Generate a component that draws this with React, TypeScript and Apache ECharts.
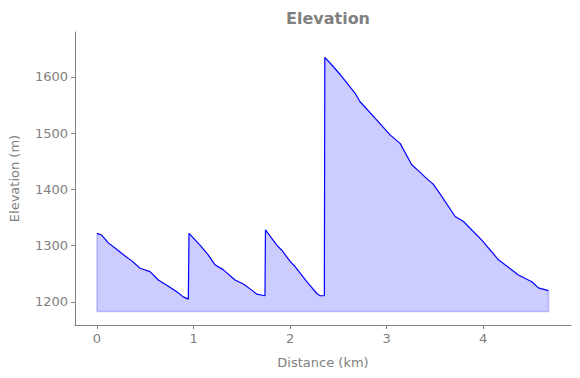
import React, { useEffect, useRef } from "react";
import * as echarts from "echarts";

const distanceKm = [
  0, 0.048, 0.117, 0.2, 0.273, 0.36, 0.446, 0.549, 0.635, 0.739, 0.826, 0.894, 0.946,
  0.953, 1.067, 1.15, 1.223, 1.309, 1.43, 1.516, 1.603, 1.655, 1.74,
  1.745, 1.862, 1.914, 2.0, 2.052, 2.173, 2.277, 2.311, 2.355,
  2.36, 2.44, 2.52, 2.674, 2.725, 2.88, 3.036, 3.14, 3.26, 3.33, 3.43, 3.48, 3.55,
  3.71, 3.796, 3.986, 4.158, 4.365, 4.504, 4.572, 4.677,
];
const elevationM = [
  1322, 1319, 1305, 1294, 1284, 1273, 1260, 1254, 1239, 1228, 1218, 1209, 1205,
  1322, 1301, 1284, 1266, 1257, 1239, 1232, 1221, 1214, 1211,
  1328, 1301, 1292, 1272, 1263, 1236, 1215, 1211, 1211,
  1635, 1620, 1604, 1571, 1556, 1527, 1497, 1482, 1444, 1433, 1417, 1410, 1393,
  1352, 1343, 1310, 1275, 1248, 1236, 1225, 1220,
];
const fillBase = 1183;
const xTicks = [0, 1, 2, 3, 4];
const yTicks = [1200, 1300, 1400, 1500, 1600];

const GRAY = "#808080";
const FONT = "DejaVu Sans";

export default function App() {
  const ref = useRef<HTMLDivElement>(null);
  useEffect(() => {
    if (!ref.current) return;
    const chart = echarts.init(ref.current, undefined, { renderer: "svg" });
    const lineData = distanceKm.map((d, i) => [d, elevationM[i]]);
    const last = distanceKm.length - 1;
    const edgeData = [
      [distanceKm[0], elevationM[0]],
      [distanceKm[0], fillBase],
      [distanceKm[last], fillBase],
      [distanceKm[last], elevationM[last]],
    ];
    const fmt = (v: number) => String(v);
    chart.setOption({
      animation: false,
      textStyle: { fontFamily: FONT },
      title: {
        text: "Elevation",
        left: 323,
        textAlign: "center",
        top: 5,
        textStyle: { fontSize: 16, fontWeight: "bold", color: GRAY, fontFamily: FONT },
      },
      grid: { left: 75, right: 9, top: 32, bottom: 53, containLabel: false },
      xAxis: {
        type: "value",
        min: -0.228,
        max: 4.91,
        name: "Distance (km)",
        nameLocation: "middle",
        nameGap: 31,
        nameTextStyle: { color: GRAY, fontSize: 13, fontFamily: FONT },
        axisLine: { show: true, onZero: false, lineStyle: { color: GRAY, width: 1 } },
        axisTick: { show: true, customValues: xTicks, length: 4, lineStyle: { color: GRAY } },
        axisLabel: { customValues: xTicks, formatter: fmt, color: GRAY, fontSize: 13, margin: 7, fontFamily: FONT },
        splitLine: { show: false },
      },
      yAxis: {
        type: "value",
        min: 1159,
        max: 1680,
        name: "Elevation (m)",
        nameLocation: "middle",
        nameGap: 54,
        nameTextStyle: { color: GRAY, fontSize: 13, fontFamily: FONT },
        axisLine: { show: true, onZero: false, lineStyle: { color: GRAY, width: 1 } },
        axisTick: { show: true, customValues: yTicks, length: 4, lineStyle: { color: GRAY } },
        axisLabel: { customValues: yTicks, formatter: fmt, color: GRAY, fontSize: 13, margin: 7, fontFamily: FONT },
        splitLine: { show: false },
      },
      series: [
        {
          type: "line",
          data: edgeData,
          symbol: "none",
          lineStyle: { color: "rgba(0,0,255,0.22)", width: 1.5 },
          silent: true,
          z: 1,
        },
        {
          type: "line",
          data: lineData,
          symbol: "none",
          lineStyle: { color: "#0000ff", width: 1.2 },
          areaStyle: { color: "rgba(0,0,255,0.2)", origin: fillBase, opacity: 1 },
          z: 2,
        },
      ],
    });
    return () => chart.dispose();
  }, []);
  return (
    <div
      ref={ref}
      style={{ position: "absolute", left: 0, top: 0, width: 580, height: 378 }}
    />
  );
}
